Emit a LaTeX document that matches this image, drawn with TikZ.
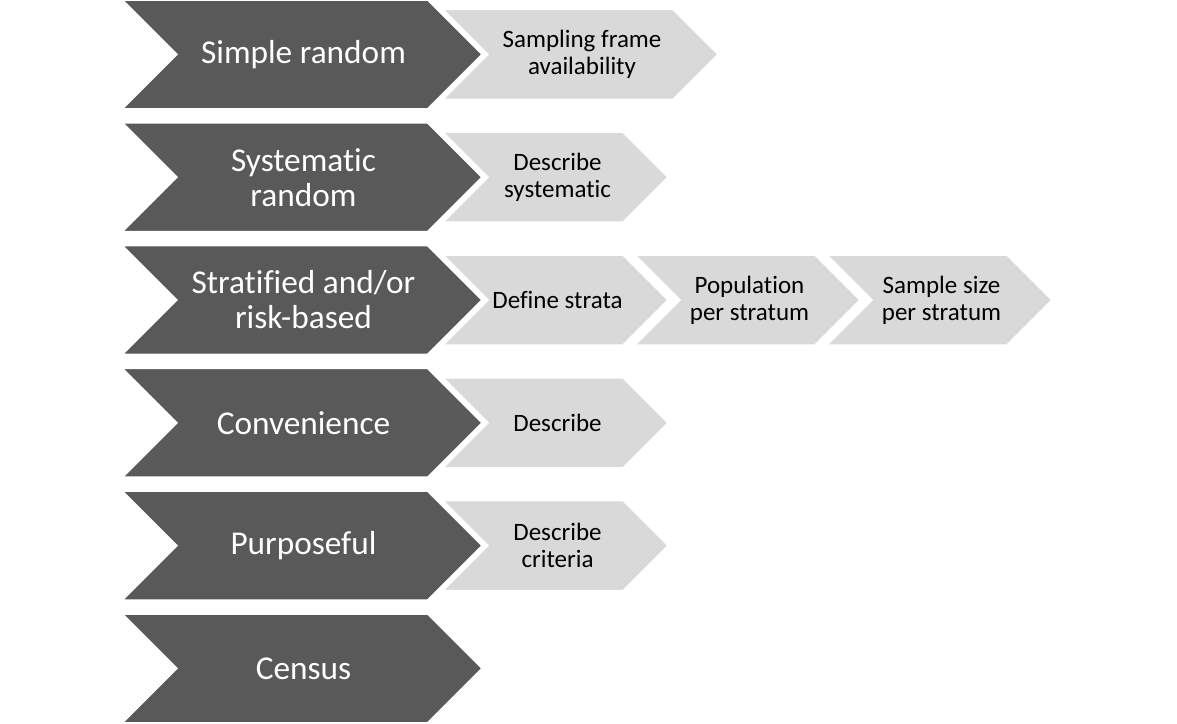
\documentclass[tikz,border=0pt]{standalone}
\usepackage{fontspec}
\setmainfont[Ligatures=NoCommon]{Carlito}
\definecolor{darkchev}{HTML}{595959}
\definecolor{lightchev}{HTML}{D9D9D9}
\tikzset{
  darkfill/.style={fill=darkchev, draw=white, line width=1.5pt, line join=miter},
  lightfill/.style={fill=lightchev, draw=white, line width=1.5pt, line join=miter},
  darktext/.style={text=white, font=\fontsize{33.3}{35}\selectfont, align=center, inner sep=0pt},
  lighttext/.style={text=black, font=\fontsize{25}{27}\selectfont, align=center, inner sep=0pt}
}
% #1 style, #2 left x, #3 tip x, #4 centre y, #5 half height
\newcommand\chevshape[5]{%
  \path[#1] (#2,#4-#5) -- ({#3-#5},#4-#5) -- (#3,#4) -- ({#3-#5},#4+#5) -- (#2,#4+#5) -- ({#2+#5},#4) -- cycle;}
\begin{document}
\begin{tikzpicture}[x=1pt,y=-1pt]
\useasboundingbox (0,0) rectangle (1177,723);
% light chevrons
\chevshape{lightfill}{443}{718}{54.4}{45}
\chevshape{lightfill}{443}{668}{177.2}{45}
\chevshape{lightfill}{443}{668}{300}{45}
\chevshape{lightfill}{635}{860}{300}{45}
\chevshape{lightfill}{827}{1052}{300}{45}
\chevshape{lightfill}{443}{668}{422.8}{45}
\chevshape{lightfill}{443}{668}{545.6}{45}
% dark chevrons
\chevshape{darkfill}{122.5}{482}{54.4}{54.4}
\chevshape{darkfill}{122.5}{482}{177.2}{54.4}
\chevshape{darkfill}{122.5}{482}{300}{54.4}
\chevshape{darkfill}{122.5}{482}{422.8}{54.4}
\chevshape{darkfill}{122.5}{482}{545.6}{54.4}
\chevshape{darkfill}{122.5}{482}{668.4}{54.4}
% dark labels
\node[darktext] (d1) at (303.5,54.4) {Simple random};
\node[darktext] (d2) at (303.5,177.2) {Systematic\\random};
\node[darktext] (d3) at (303.5,300) {Stratified and/or\\risk-based};
\node[darktext] (d4) at (303.5,422.8) {Convenience};
\node[darktext] (d5) at (303.5,545.6) {Purposeful};
\node[darktext] (d6) at (303.5,668.4) {Census};
% light labels
\node[lighttext] (l1) at (582,54.4) {Sampling frame\\availability};
\node[lighttext] (l2) at (557.5,177.2) {Describe\\systematic};
\node[lighttext] (l3) at (557.5,300) {Define strata};
\node[lighttext] (l4) at (749.5,300) {Population\\per stratum};
\node[lighttext] (l5) at (941.5,300) {Sample size\\per stratum};
\node[lighttext] (l6) at (557.5,422.8) {Describe};
\node[lighttext] (l7) at (557.5,545.6) {Describe\\criteria};
\end{tikzpicture}
\end{document}
